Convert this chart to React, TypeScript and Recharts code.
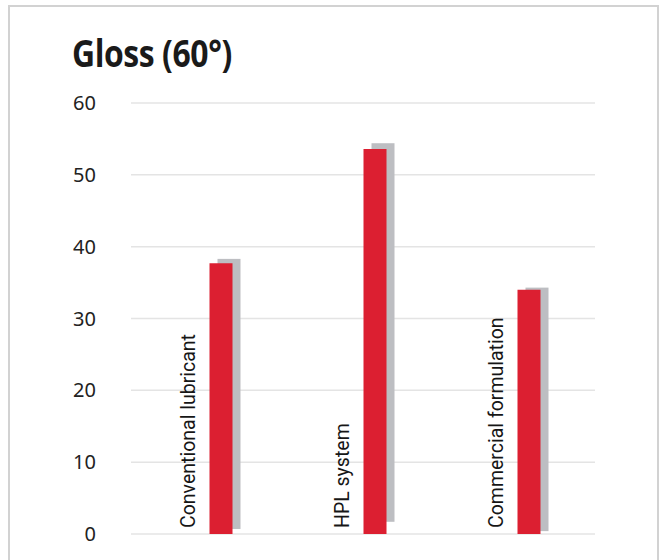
import React from 'react';
import { BarChart, Bar, XAxis, YAxis, CartesianGrid } from 'recharts';

const categories = ['Conventional lubricant', 'HPL system', 'Commercial formulation'];
const glossValues = [37.7, 53.6, 34.0];
// grey backing bar, slightly higher and lifted off the baseline
const shadowLow = [0.7, 1.7, 0.4];
const shadowHigh = [38.3, 54.4, 34.3];
const yTicks = [0, 10, 20, 30, 40, 50, 60];

const data = categories.map((name, i) => ({
  name,
  gloss: glossValues[i],
  shadow: [shadowLow[i], shadowHigh[i]],
}));

const ShadowShape = (props: any) => {
  const { x, y, width, height } = props;
  return <rect x={x + 8} y={y} width={width} height={height} fill="#bdbec2" />;
};

const CategoryTick = (props: any) => {
  const { x, y, payload } = props;
  return (
    <text
      transform={`translate(${x - 26}, ${y - 6}) rotate(-90)`}
      textAnchor="start"
      fontSize={19.5}
      fontFamily="Roboto, 'Noto Sans', sans-serif"
      fill="#161616"
    >
      {payload.value}
    </text>
  );
};

export default function App() {
  return (
    <div>
      <div
        style={{
          position: 'absolute',
          left: 8,
          top: 5,
          width: 647,
          height: 560,
          border: '2px solid #d2d2d2',
          borderBottom: 'none',
          background: '#fff',
        }}
      />
      <div
        style={{
          position: 'absolute',
          left: 72,
          top: 30,
          fontSize: 38,
          lineHeight: '44px',
          fontWeight: 700,
          fontFamily: "'Open Sans', sans-serif",
          color: '#1a1a1a',
          letterSpacing: -0.5,
          transform: 'scaleX(0.84)',
          transformOrigin: 'left top',
          whiteSpace: 'nowrap',
        }}
      >
        Gloss (60°)
      </div>
      <div style={{ position: 'absolute', left: 0, top: 0 }}>
        <BarChart
          width={662}
          height={560}
          data={data}
          margin={{ top: 103, right: 67, bottom: 0, left: 71 }}
          barGap={-23}
        >
          <CartesianGrid vertical={false} stroke="#e4e4e4" strokeWidth={1.5} />
          <XAxis
            dataKey="name"
            height={26}
            axisLine={false}
            tickLine={false}
            tickSize={0}
            tickMargin={0}
            interval={0}
            padding={{ left: 12.5, right: -10.5 }}
            tick={<CategoryTick />}
          />
          <YAxis
            width={60}
            domain={[0, 60]}
            ticks={yTicks}
            axisLine={false}
            tickLine={false}
            tickSize={0}
            tickMargin={35}
            tick={{ fontSize: 20, fill: '#222', fontFamily: "'Noto Sans', sans-serif" }}
          />
          <Bar dataKey="shadow" barSize={23} shape={<ShadowShape />} isAnimationActive={false} />
          <Bar dataKey="gloss" barSize={23} fill="#dc1f31" isAnimationActive={false} />
        </BarChart>
      </div>
    </div>
  );
}
